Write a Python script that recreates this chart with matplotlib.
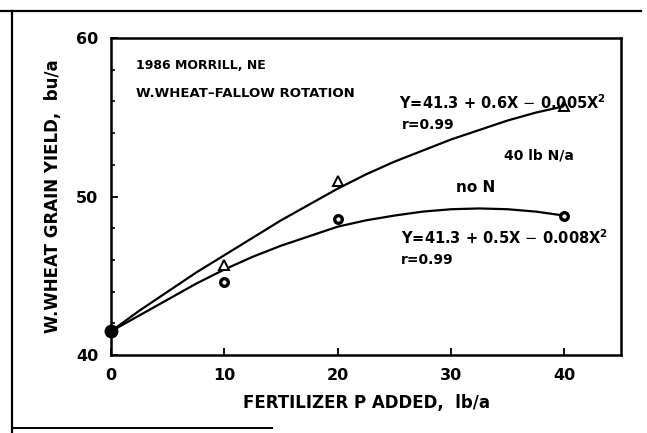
"""Wheat grain yield vs fertilizer P, 1986 Morrill NE (scanned figure redraw)."""

import matplotlib
matplotlib.use("Agg")
import matplotlib.pyplot as plt
from matplotlib.lines import Line2D
from matplotlib.ticker import MultipleLocator

# measured points
p_rate = [0, 10, 20, 40]
yield_40n = [41.5, 45.7, 51.0, 55.7]
yield_no_n = [41.5, 44.6, 48.6, 48.8]

curve_x = [0, 2.5, 5, 7.5, 10, 12.5, 15, 17.5, 20, 22.5, 25, 27.5, 30, 32.5, 35, 37.5, 40]
curve_40n = [41.5, 42.8, 44.0, 45.2, 46.3, 47.4, 48.5, 49.5, 50.5, 51.4, 52.2, 52.9,
             53.6, 54.2, 54.8, 55.3, 55.7]
curve_no_n = [41.5, 42.5, 43.5, 44.5, 45.4, 46.2, 46.9, 47.5, 48.1, 48.5, 48.8, 49.05,
              49.2, 49.25, 49.2, 49.05, 48.8]

x_ticks = [0, 10, 20, 30, 40]
y_ticks = [40, 50, 60]

FONT = {"family": "DejaVu Sans", "weight": "bold"}


def main() -> None:
    fig = plt.figure(figsize=(6.47, 4.33), dpi=100)
    ax = fig.add_axes([0.1716, 0.180, 0.7882, 0.7321])

    ax.plot(curve_x, curve_40n, color="black", lw=1.6, solid_capstyle="round")
    ax.plot(curve_x, curve_no_n, color="black", lw=1.6, solid_capstyle="round")
    ax.plot(p_rate[1:], yield_40n[1:], ls="none", marker="^", ms=6.5,
            mfc="white", mec="black", mew=1.4, zorder=3)
    ax.plot(p_rate[1:], yield_no_n[1:], ls="none", marker="o", ms=5.5,
            mfc="white", mec="black", mew=2.4, zorder=3)
    ax.plot(p_rate[:1], yield_no_n[:1], ls="none", marker="o", ms=9,
            color="black", zorder=4, clip_on=False)

    ax.set_xlim(0, 45)
    ax.set_ylim(40, 60)
    ax.set_xticks(x_ticks)
    ax.set_yticks(y_ticks)
    ax.yaxis.set_minor_locator(MultipleLocator(2))
    ax.tick_params(axis="both", which="major", direction="in", length=5,
                   width=1.3, labelsize=11.5, pad=9)
    ax.tick_params(axis="y", which="minor", direction="in", length=3, width=1.2)
    for lab in ax.get_xticklabels() + ax.get_yticklabels():
        lab.set_fontweight("bold")
    for side in ax.spines.values():
        side.set_linewidth(1.8)

    ax.set_xlabel("FERTILIZER P ADDED,  lb/a", fontsize=12, labelpad=8, **FONT)
    ax.set_ylabel("W.WHEAT GRAIN YIELD,  bu/a", fontsize=12, labelpad=10, **FONT)

    ax.text(2.2, 58.3, "1986 MORRILL, NE", fontsize=9, va="center", **FONT)
    ax.text(2.2, 56.5, "W.WHEAT\u2013FALLOW ROTATION", fontsize=9.5, va="center", **FONT)
    ax.text(25.4, 55.9, r"Y=41.3 + 0.6X $-$ 0.005X$^{\mathbf{2}}$", fontsize=10.5,
            va="center", **FONT)
    ax.text(25.7, 54.5, "r=0.99", fontsize=10, va="center", **FONT)
    ax.text(34.7, 52.6, "40 lb N/a", fontsize=10, va="center", **FONT)
    ax.text(32.2, 50.6, "no N", fontsize=11, va="center", ha="center", **FONT)
    ax.text(25.6, 47.4, r"Y=41.3 + 0.5X $-$ 0.008X$^{\mathbf{2}}$", fontsize=10.5,
            va="center", **FONT)
    ax.text(25.6, 46.0, "r=0.99", fontsize=10, va="center", **FONT)

    # page border left over from the scan
    fig.add_artist(Line2D([0.0, 0.99], [0.975, 0.975], transform=fig.transFigure,
                          color="black", lw=1.6))
    fig.add_artist(Line2D([0.018, 0.018], [0.0, 0.975], transform=fig.transFigure,
                          color="black", lw=1.6))
    fig.add_artist(Line2D([0.018, 0.42], [0.012, 0.012], transform=fig.transFigure,
                          color="black", lw=1.4))

    fig.savefig("out.png", dpi=100)
    plt.close(fig)


if __name__ == "__main__":
    main()
